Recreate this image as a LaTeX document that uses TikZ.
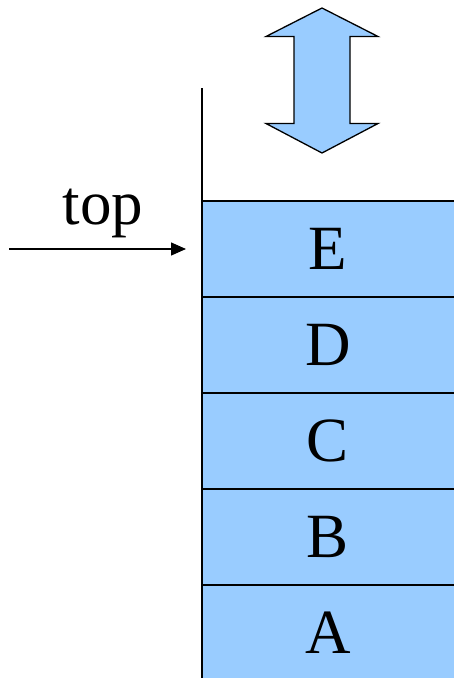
\documentclass[tikz,border=0pt]{standalone}
\usepackage{fontspec}
\setmainfont{Liberation Serif}
\usetikzlibrary{positioning,arrows.meta}
\definecolor{stackblue}{RGB}{153,204,255}

\begin{document}
\begin{tikzpicture}[x=1pt,y=1pt,yscale=-1,xscale=1,
	cell/.style={fill=stackblue, minimum width=252pt, minimum height=96pt, inner sep=0pt, outer sep=0pt, text depth=0pt, font=\fontsize{63}{63}\selectfont},
	rule/.style={line width=1.3pt},
	bigarrow/.style={draw, fill=stackblue, line width=1.3pt, line join=miter}]
	\path[use as bounding box, clip] (0,0) rectangle (454,678);
	
	% Stack cells
	\node [cell, anchor=north west] (E) at (202,201) {E};
	\node [cell, below=0pt of E] (D) {D};
	\node [cell, below=0pt of D] (C) {C};
	\node [cell, below=0pt of C] (B) {B};
	\node [cell, below=0pt of B] (A) {A};
	\foreach \c in {E,D,C,B,A}
		\draw [rule] (\c.north west) -- (\c.north east);
	
	% Wall of the stack
	\coordinate (wall) at (202,88);
	\draw [rule] (wall) -- (A.south west);
	
	% Up and down arrow
	\draw [bigarrow] (322,8) -- (378,36.5) -- (350,36.5) -- (350,123.5) -- (378,123.5) -- (322,153) -- (266,123.5) -- (294,123.5) -- (294,36.5) -- (266,36.5) -- cycle;
	
	% Top pointer
	\coordinate (ptr) at (9,249);
	\coordinate (ptr end) at (186,249);
	\draw [rule, -{Triangle[length=15pt,width=13pt]}] (ptr) -- (ptr end);
	\node [anchor=base, inner sep=0pt, font=\fontsize{63}{63}\selectfont] (toplabel) at (103,224) {top};
\end{tikzpicture}
\end{document}
